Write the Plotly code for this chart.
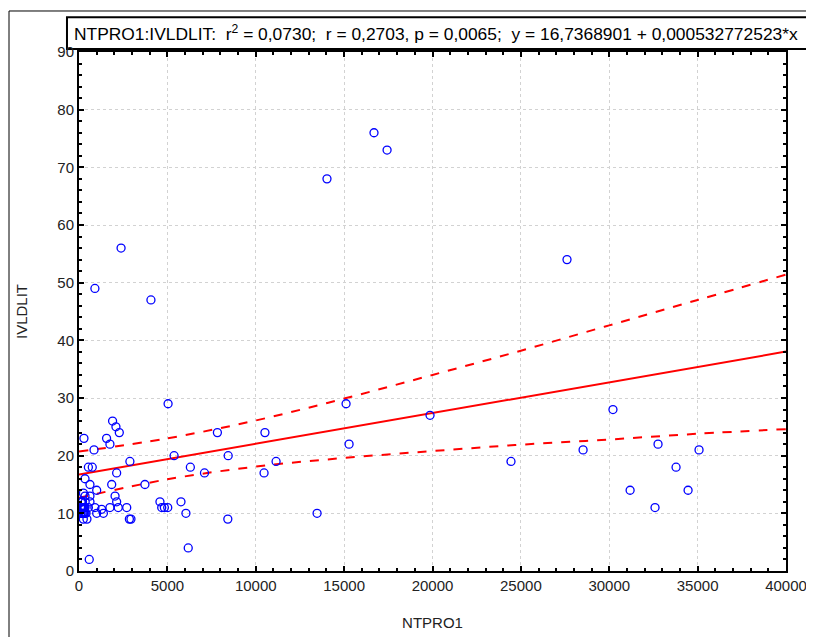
import plotly.graph_objects as go

# NTPRO1 (x) and IVLDLIT (y) values
ntpro1 = [16690, 17430, 14030, 2380, 27610, 900, 4070, 5040, 15110, 19860,
          30210, 7830, 10520, 5380, 8440, 6300, 7100, 10470, 11150, 15280,
          24440, 28520, 32760, 33780, 35080, 31180, 34460, 32590, 13470, 8420,
          6180, 580, 6050, 5770, 4580, 4680, 4830, 5020, 2880, 3730,
          2700, 2850, 2940, 1900, 2090, 2280, 1560, 1750, 280, 850,
          2130, 530, 750, 340, 620, 1850, 1000, 250, 340, 620,
          2040, 2130, 620, 340, 530, 900, 1280, 1750, 2220, 245,
          1000, 1380, 245, 100, 150, 200, 250, 300, 350, 400,
          450, 200, 300, 150, 250, 100, 350, 120, 180, 280]
ivldlit = [76, 73, 68, 56, 54, 49, 47, 29, 29, 27,
           28, 24, 24, 20, 20, 18, 17, 17, 19, 22,
           19, 21, 22, 18, 21, 14, 14, 11, 10, 9,
           4, 2, 10, 12, 12, 11, 11, 11, 19, 15,
           11, 9, 9, 26, 25, 24, 23, 22, 23, 21,
           17, 18, 18, 16, 15, 15, 14, 13.5, 13, 13,
           13, 12, 12, 11, 11, 11, 10.7, 11, 11, 10,
           10, 10, 9, 10, 11, 12, 10, 11, 12, 10,
           9, 11, 10, 12, 11, 11, 10, 12, 10, 11]

# regression line from the title
intercept = 16.7368901
slope = 0.000532772523
line_x = [0, 40000]

# 95% confidence band
band_x = [0, 5000, 10000, 15000, 20000, 25000, 30000, 35000, 40000]
band_upper = [20.7, 23.0, 26.1, 29.9, 34.0, 38.2, 42.6, 47.0, 51.4]
band_lower = [12.7, 15.9, 18.1, 19.6, 20.8, 21.9, 22.8, 23.8, 24.6]

x_ticks = [0, 5000, 10000, 15000, 20000, 25000, 30000, 35000, 40000]
y_ticks = [0, 10, 20, 30, 40, 50, 60, 70, 80, 90]

fig = go.Figure()
red = "#ff0000"
fig.add_trace(go.Scatter(x=band_x, y=band_upper, mode="lines", line_shape="spline",
                         line=dict(color=red, width=2, dash="dash"), hoverinfo="skip"))
fig.add_trace(go.Scatter(x=band_x, y=band_lower, mode="lines", line_shape="spline",
                         line=dict(color=red, width=2, dash="dash"), hoverinfo="skip"))
fig.add_trace(go.Scatter(x=line_x, y=[intercept + slope * v for v in line_x], mode="lines",
                         line=dict(color=red, width=2), hoverinfo="skip"))
fig.add_trace(go.Scatter(x=ntpro1, y=ivldlit, mode="markers",
                         marker=dict(symbol="circle-open", size=8, color="#0000ff",
                                     line=dict(width=1.3, color="#0000ff"))))

font_family = "Liberation Sans, Arial, sans-serif"
axis_common = dict(showline=True, linecolor="black", linewidth=2, mirror="ticks",
                   ticks="inside", ticklen=5, tickcolor="black", tickwidth=1.5,
                   showgrid=True, gridcolor="#d2d2d2", griddash="dot", gridwidth=1,
                   zeroline=False, automargin=False,
                   tickfont=dict(size=15, color="#222222", family=font_family))

fig.update_xaxes(range=[0, 40000], tickmode="array", tickvals=x_ticks,
                 ticktext=[str(v) for v in x_ticks],
                 minor=dict(ticks="inside", ticklen=3, dtick=1000, tickcolor="black", showgrid=False),
                 title=dict(text="NTPRO1", font=dict(size=15, color="#222222", family=font_family),
                            standoff=24),
                 **axis_common)
fig.update_yaxes(range=[0, 90], tickmode="array", tickvals=y_ticks,
                 ticktext=[str(v) for v in y_ticks],
                 minor=dict(ticks="inside", ticklen=3, dtick=2, tickcolor="black", showgrid=False),
                 title=dict(text="IVLDLIT", font=dict(size=15, color="#222222", family=font_family),
                            standoff=26),
                 **axis_common)

fig.update_layout(
    width=806, height=629,
    margin=dict(l=71, r=28, t=44, b=66),
    plot_bgcolor="white", paper_bgcolor="white",
    showlegend=False,
    shapes=[
        dict(type="rect", xref="paper", yref="paper", x0=-0.017, x1=1.031,
             y0=1.006, y1=1.067, line=dict(color="black", width=2), fillcolor="white",
             layer="below"),
        dict(type="line", xref="paper", yref="paper", x0=-0.099, x1=1.05, y0=1.079, y1=1.079,
             line=dict(color="black", width=1)),
        dict(type="line", xref="paper", yref="paper", x0=-0.099, x1=-0.099, y0=-0.2, y1=1.079,
             line=dict(color="black", width=1)),
    ],
    annotations=[
        dict(xref="paper", yref="paper", x=-0.010, y=1.036, xanchor="left", yanchor="middle",
             showarrow=False,
             text="NTPRO1:IVLDLIT:  r<sup>2</sup> = 0,0730;  r = 0,2703, p = 0,0065;  y = 16,7368901 + 0,000532772523*x",
             font=dict(size=17.4, color="black", family=font_family)),
    ],
)

fig.write_html("out.html")
